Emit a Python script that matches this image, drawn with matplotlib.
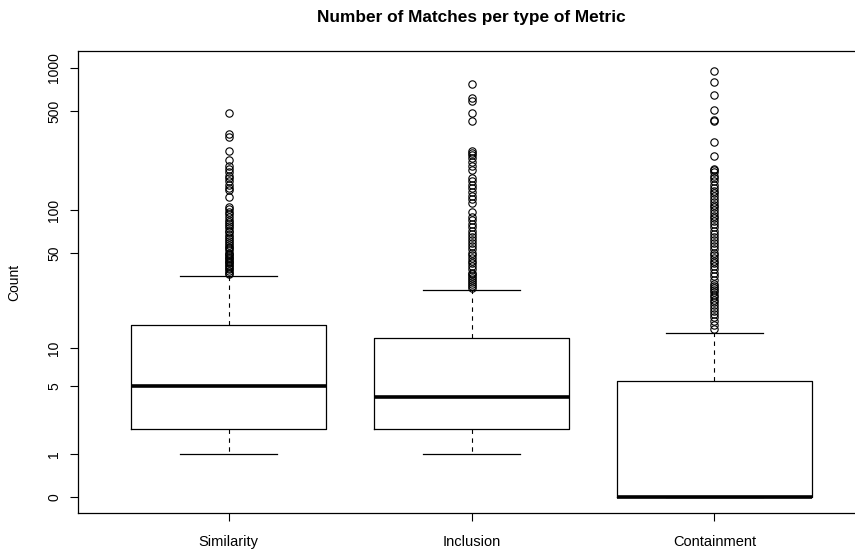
import numpy as np
import matplotlib.pyplot as plt

plt.rcParams['font.family'] = ['Liberation Sans', 'DejaVu Sans']

categories = ['Similarity', 'Inclusion', 'Containment']

# five-number summaries (counts)
whislo = [1, 1, 0]
q1 = [2, 2, 0]
med = [5, 4, 0]
q3 = [15, 12, 5.5]
whishi = [34, 27, 13]

sim_out = [35, 36, 37, 38, 39, 40, 41, 42, 43, 44, 45, 46, 47, 48, 49, 50, 52, 54, 55,
           57, 59, 61, 63, 65, 67, 70, 72, 75, 78, 80, 83, 86, 90, 94, 98, 102, 106,
           124, 139, 145, 152, 160, 168, 176, 185, 195, 205, 226, 262, 330, 345, 484]
inc_out = [28, 29, 30, 31, 32, 33, 34, 35, 36, 38, 40, 42, 44, 46, 48, 50, 53, 56, 59,
           62, 65, 68, 72, 76, 80, 85, 90, 97, 113, 120, 127, 135, 143, 152, 160, 169,
           193, 205, 218, 232, 245, 253, 262, 426, 486, 590, 613, 772]
cont_out = [14, 15, 16, 17, 18, 19, 20, 21, 22, 23, 24, 25, 26, 27, 28, 29, 30, 32, 34,
            36, 38, 40, 42, 44, 46, 48, 50, 53, 56, 59, 62, 65, 68, 72, 76, 80, 84, 88,
            92, 96, 100, 105, 110, 115, 120, 126, 132, 138, 145, 152, 160, 168, 176,
            185, 193, 195, 242, 304, 425, 432, 508, 647, 800, 957]
outliers = [sim_out, inc_out, cont_out]

ytick_vals = [0, 1, 5, 10, 50, 100, 500, 1000]


def t(v):
    return np.log10(np.asarray(v, dtype=float) + 1)


stats = []
for i, name in enumerate(categories):
    stats.append(dict(label=name, whislo=t(whislo[i]), q1=t(q1[i]), med=t(med[i]),
                      q3=t(q3[i]), whishi=t(whishi[i]), fliers=t(outliers[i])))

fig = plt.figure(figsize=(8.55, 5.53), dpi=100)
ax = fig.add_axes([78 / 855, 1 - 513 / 553, 787 / 855, 462 / 553])

ax.bxp(stats, positions=[1, 2, 3], widths=0.8, showcaps=True,
       boxprops=dict(color='black', linewidth=0.9),
       medianprops=dict(color='black', linewidth=2.6, solid_capstyle='butt'),
       whiskerprops=dict(color='black', linewidth=0.8, linestyle=(0, (4, 4))),
       capprops=dict(color='black', linewidth=0.9),
       capwidths=0.4,
       flierprops=dict(marker='o', markerfacecolor='none', markeredgecolor='black',
                       markersize=5.3, markeredgewidth=0.8))

ax.set_xlim(0.38, 3.62)
ax.set_ylim(-0.112, 3.119)

ax.set_xticks([1, 2, 3])
ax.set_xticklabels(categories, fontsize=10.5)
ax.set_yticks(t(ytick_vals))
ax.set_yticklabels([str(v) for v in ytick_vals], fontsize=10, rotation=90, va='center')
ax.tick_params(length=5.5, width=0.8)
ax.tick_params(axis='x', pad=10)
ax.tick_params(axis='y', pad=6.5)

for side in ax.spines:
    ax.spines[side].set_linewidth(0.9)

ax.set_ylabel('Count', fontsize=10)
ax.yaxis.set_label_coords(-0.072, 0.5)
fig.suptitle('Number of Matches per type of Metric', fontsize=12.4, fontweight='bold',
             x=471 / 855, y=1 - 10 / 553, va='top')

plt.savefig('out.png', dpi=100)
